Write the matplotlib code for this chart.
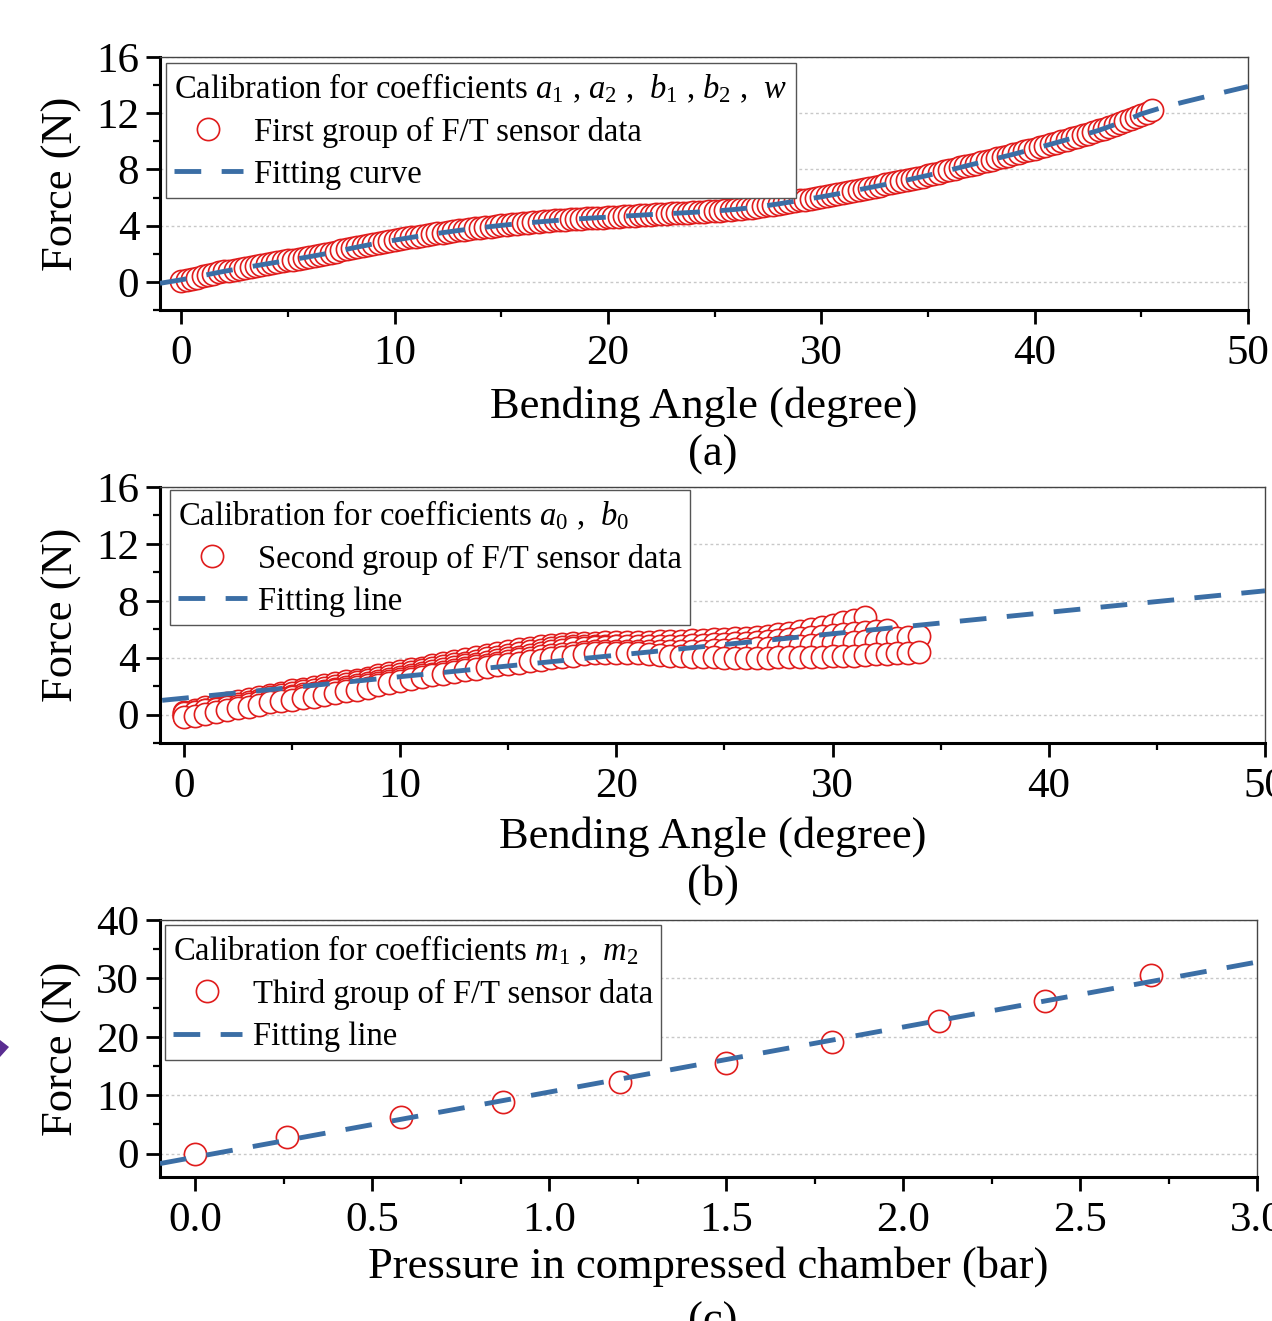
import numpy as np
import matplotlib
matplotlib.use('Agg')
import matplotlib.pyplot as plt
from matplotlib.patches import Polygon
from matplotlib.ticker import MultipleLocator, FormatStrFormatter

plt.rcParams['font.family'] = 'Liberation Serif'
plt.rcParams['mathtext.fontset'] = 'custom'
plt.rcParams['mathtext.rm'] = 'Liberation Serif'
plt.rcParams['mathtext.it'] = 'Liberation Serif:italic'

rot = '#e01c1c'
blau = '#3b6ea5'

# (a) erste Messreihe: Kraft ueber Biegewinkel
winkel_a = np.arange(0, 45.51, 0.25)
kraft_a = [0.05, 0.14, 0.22, 0.31, 0.40, 0.49, 0.58, 0.67, 0.75, 0.81, 0.87, 0.94,
           1.00, 1.07, 1.14, 1.20, 1.27, 1.33, 1.40, 1.46, 1.53, 1.59, 1.65, 1.72,
           1.78, 1.85, 1.92, 2.00, 2.07, 2.16, 2.25, 2.33, 2.42, 2.50, 2.57, 2.65,
           2.72, 2.79, 2.85, 2.92, 2.98, 3.04, 3.10, 3.16, 3.22, 3.28, 3.34, 3.39,
           3.45, 3.50, 3.56, 3.61, 3.66, 3.71, 3.76, 3.81, 3.86, 3.90, 3.94, 3.98,
           4.02, 4.06, 4.10, 4.14, 4.18, 4.21, 4.25, 4.28, 4.31, 4.34, 4.37, 4.40,
           4.43, 4.45, 4.48, 4.50, 4.52, 4.54, 4.56, 4.58, 4.60, 4.63, 4.65, 4.68,
           4.70, 4.72, 4.75, 4.77, 4.79, 4.81, 4.83, 4.85, 4.87, 4.89, 4.91, 4.93,
           4.95, 4.97, 4.99, 5.02, 5.04, 5.07, 5.10, 5.13, 5.16, 5.20, 5.24, 5.29,
           5.33, 5.38, 5.44, 5.49, 5.55, 5.61, 5.67, 5.74, 5.80, 5.86, 5.92, 5.99,
           6.05, 6.12, 6.19, 6.26, 6.33, 6.40, 6.48, 6.55, 6.63, 6.70, 6.78, 6.85,
           6.93, 7.01, 7.08, 7.16, 7.24, 7.32, 7.41, 7.49, 7.58, 7.67, 7.76, 7.86,
           7.95, 8.04, 8.14, 8.23, 8.33, 8.42, 8.51, 8.61, 8.70, 8.79, 8.89, 8.98,
           9.08, 9.18, 9.28, 9.38, 9.48, 9.58, 9.69, 9.79, 9.90, 10.01, 10.11, 10.22,
           10.33, 10.44, 10.55, 10.67, 10.78, 10.90, 11.02, 11.15, 11.28, 11.42, 11.57, 11.73,
           11.90, 12.05, 12.20]
fit_winkel_a = list(range(-1, 51))
fit_kraft_a = [-0.10, 0.15, 0.45, 0.75, 1.02, 1.28, 1.53, 1.79, 2.07, 2.40, 2.70, 2.97,
               3.22, 3.45, 3.66, 3.85, 4.02, 4.17, 4.30, 4.42, 4.52, 4.61, 4.70, 4.79,
               4.87, 4.95, 5.04, 5.16, 5.33, 5.55, 5.80, 6.05, 6.33, 6.63, 6.93, 7.24,
               7.58, 7.95, 8.33, 8.70, 9.08, 9.48, 9.90, 10.33, 10.78, 11.32, 11.95, 12.42,
               12.80, 13.17, 13.54, 13.90]

# (b) zweite Messreihe: mehrere Be- und Entlastungszyklen
kraft_b_1 = [0.20, 0.35, 0.50, 0.65, 0.80, 0.95, 1.10, 1.25, 1.40, 1.55, 1.70, 1.83,
             1.95, 2.08, 2.20, 2.33, 2.45, 2.60, 2.75, 2.90, 3.05, 3.18, 3.30, 3.45,
             3.60, 3.75, 3.90, 4.05, 4.20, 4.33, 4.45, 4.58, 4.70, 4.80, 4.90, 4.95,
             5.00, 5.03, 5.05, 5.08, 5.10, 5.10, 5.10, 5.13, 5.15, 5.18, 5.20, 5.23,
             5.25, 5.28, 5.30, 5.35, 5.40, 5.48, 5.55, 5.65, 5.75, 5.88, 6.00, 6.15,
             6.30, 6.48, 6.65, 6.85]
kraft_b_2 = [0.00, 0.15, 0.30, 0.45, 0.60, 0.75, 0.90, 1.05, 1.20, 1.35, 1.50, 1.63,
             1.75, 1.88, 2.00, 2.15, 2.30, 2.45, 2.60, 2.73, 2.85, 2.98, 3.10, 3.25,
             3.40, 3.53, 3.65, 3.80, 3.95, 4.08, 4.20, 4.33, 4.45, 4.55, 4.65, 4.73,
             4.80, 4.83, 4.85, 4.83, 4.80, 4.78, 4.75, 4.73, 4.70, 4.70, 4.70, 4.73,
             4.75, 4.78, 4.80, 4.85, 4.90, 4.95, 5.00, 5.05, 5.10, 5.18, 5.25, 5.33,
             5.40, 5.45, 5.50, 5.58]
kraft_b_3 = [-0.10, 0.03, 0.15, 0.28, 0.40, 0.55, 0.70, 0.85, 1.00, 1.15, 1.30, 1.43,
             1.55, 1.68, 1.80, 1.93, 2.05, 2.20, 2.35, 2.50, 2.65, 2.80, 2.95, 3.08,
             3.20, 3.33, 3.45, 3.58, 3.70, 3.83, 3.95, 4.08, 4.20, 4.33, 4.45, 4.55,
             4.65, 4.70, 4.75, 4.78, 4.80, 4.80, 4.80, 4.80, 4.80, 4.83, 4.85, 4.88,
             4.90, 4.93, 4.95, 5.00, 5.05, 5.10, 5.15, 5.23, 5.30, 5.38, 5.45, 5.53,
             5.60, 5.68, 5.75, 5.83, 5.90, 5.97]
kraft_b_4 = [0.10, 0.20, 0.30, 0.40, 0.50, 0.63, 0.75, 0.88, 1.00, 1.10, 1.20, 1.33,
             1.45, 1.58, 1.70, 1.83, 1.95, 2.08, 2.20, 2.35, 2.50, 2.63, 2.75, 2.88,
             3.00, 3.13, 3.25, 3.38, 3.50, 3.63, 3.75, 3.88, 4.00, 4.10, 4.20, 4.28,
             4.35, 4.40, 4.45, 4.48, 4.50, 4.50, 4.50, 4.48, 4.45, 4.45, 4.45, 4.48,
             4.50, 4.53, 4.55, 4.58, 4.60, 4.65, 4.70, 4.75, 4.80, 4.85, 4.90, 4.95,
             5.00, 5.05, 5.10, 5.15, 5.20, 5.28, 5.35, 5.43, 5.50]
kraft_b_5 = [-0.20, -0.08, 0.05, 0.18, 0.30, 0.43, 0.55, 0.70, 0.85, 0.95, 1.05, 1.15,
             1.25, 1.38, 1.50, 1.63, 1.75, 1.90, 2.05, 2.20, 2.35, 2.50, 2.65, 2.75,
             2.85, 2.98, 3.10, 3.23, 3.35, 3.45, 3.55, 3.65, 3.75, 3.85, 3.95, 4.05,
             4.15, 4.23, 4.30, 4.33, 4.35, 4.33, 4.30, 4.25, 4.20, 4.15, 4.10, 4.08,
             4.05, 4.03, 4.00, 4.00, 4.00, 4.00, 4.00, 4.03, 4.05, 4.05, 4.05, 4.08,
             4.10, 4.13, 4.15, 4.20, 4.25, 4.28, 4.30, 4.35, 4.40]
zyklen_b = [kraft_b_1, kraft_b_2, kraft_b_3, kraft_b_4, kraft_b_5]
fit_winkel_b = [-1, 50]
fit_kraft_b = [1.0, 8.7]

# (c) dritte Messreihe: Kraft ueber Kammerdruck
druck_c = [0.0, 0.26, 0.58, 0.87, 1.2, 1.5, 1.8, 2.1, 2.4, 2.7]
kraft_c = [0.0, 2.9, 6.2, 8.9, 12.2, 15.6, 19.1, 22.7, 26.1, 30.6]
fit_druck_c = [-0.1, 3.0]
fit_kraft_c = [-1.7, 32.8]


def achse_stylen(ax, xlim, ylim, xmaj, xmin, ymaj, ymin):
    ax.set_xlim(*xlim)
    ax.set_ylim(*ylim)
    ax.xaxis.set_major_locator(MultipleLocator(xmaj))
    ax.xaxis.set_minor_locator(MultipleLocator(xmin))
    ax.yaxis.set_major_locator(MultipleLocator(ymaj))
    ax.yaxis.set_minor_locator(MultipleLocator(ymin))
    for s in ['left', 'bottom']:
        ax.spines[s].set_linewidth(2.2)
    for s in ['top', 'right']:
        ax.spines[s].set_linewidth(1.0)
        ax.spines[s].set_color('#444444')
    ax.tick_params(which='major', direction='out', length=10, width=2, labelsize=31)
    ax.tick_params(which='minor', direction='out', length=5, width=1.6)
    ax.tick_params(axis='x', which='major', pad=8)
    ax.tick_params(axis='y', which='major', pad=5)
    ax.yaxis.grid(True, which='major', color='#c8c8c8', linestyle=(0, (2, 2)), linewidth=1)
    ax.set_axisbelow(True)


def punkte(ax, x, y):
    return ax.plot(x, y, ls='none', marker='o', ms=16, mfc='white', mec=rot,
                   mew=1.2, zorder=2)[0]


def fitlinie(ax, x, y):
    return ax.plot(x, y, color=blau, lw=3.5, ls=(0, (5.5, 4.2)), zorder=3)[0]


def legende(ax, handles, labels, titel, pos):
    leg = ax.legend(handles, labels, title=titel, loc='upper left', bbox_to_anchor=pos,
                    borderaxespad=0, fontsize=23.5, title_fontsize=23.5, alignment='left',
                    frameon=True, fancybox=False, framealpha=1, edgecolor='#555555',
                    borderpad=0.25, labelspacing=0.36, handlelength=2.1,
                    handletextpad=0.35, numpoints=1)
    leg.get_frame().set_linewidth(1.0)


fig = plt.figure(figsize=(12.72, 13.21), dpi=100)

# Panel (a)
ax1 = fig.add_axes([0.12579, 0.76533, 0.85535, 0.19152])
achse_stylen(ax1, (-1, 50), (-2, 16), 10, 5, 4, 2)
p1 = punkte(ax1, winkel_a, kraft_a)
f1 = fitlinie(ax1, fit_winkel_a, fit_kraft_a)
legende(ax1, [p1, f1], ['First group of F/T sensor data', 'Fitting curve'],
        r'Calibration for coefficients $\mathit{a}_{\mathit{1}}$ , $\mathit{a}_{\mathit{2}}$ ,  '
        r'$\mathit{b}_{\mathit{1}}$ , $\mathit{b}_{\mathit{2}}$ ,  $\mathit{w}$',
        (0.0055, 0.976))
ax1.set_xlabel('Bending Angle (degree)', fontsize=32)
ax1.set_ylabel('Force (N)', fontsize=32)
ax1.xaxis.set_label_coords(0.5, -0.30)
ax1.yaxis.set_label_coords(-0.072, 0.5)

# Panel (b)
ax2 = fig.add_axes([0.12579, 0.43755, 0.86871, 0.19379])
achse_stylen(ax2, (-1.1, 50), (-2, 16), 10, 5, 4, 2)
p2 = None
for kraft in zyklen_b:
    winkel = np.arange(len(kraft)) * 0.5
    linie = punkte(ax2, winkel, kraft)
    if p2 is None:
        p2 = linie
f2 = fitlinie(ax2, fit_winkel_b, fit_kraft_b)
legende(ax2, [p2, f2], ['Second group of F/T sensor data', 'Fitting line'],
        r'Calibration for coefficients $\mathit{a}_{\mathit{0}}$ ,  $\mathit{b}_{\mathit{0}}$',
        (0.009, 0.988))
ax2.set_xlabel('Bending Angle (degree)', fontsize=32)
ax2.set_ylabel('Force (N)', fontsize=32)
ax2.xaxis.set_label_coords(0.5, -0.285)
ax2.yaxis.set_label_coords(-0.071, 0.5)

# Panel (c)
ax3 = fig.add_axes([0.12579, 0.10901, 0.86242, 0.19455])
achse_stylen(ax3, (-0.1, 3.0), (-4, 40), 0.5, 0.25, 10, 5)
ax3.xaxis.set_major_formatter(FormatStrFormatter('%.1f'))
p3 = punkte(ax3, druck_c, kraft_c)
f3 = fitlinie(ax3, fit_druck_c, fit_kraft_c)
legende(ax3, [p3, f3], ['Third group of F/T sensor data', 'Fitting line'],
        r'Calibration for coefficients $\mathit{m}_{\mathit{1}}$ ,  $\mathit{m}_{\mathit{2}}$',
        (0.0046, 0.98))
ax3.set_xlabel('Pressure in compressed chamber (bar)', fontsize=32)
ax3.set_ylabel('Force (N)', fontsize=32)
ax3.xaxis.set_label_coords(0.5, -0.268)
ax3.yaxis.set_label_coords(-0.071, 0.5)

# Teilbild-Bezeichnungen
fig.text(713 / 1272, 1 - 455 / 1321, '(a)', ha='center', va='center', fontsize=32)
fig.text(713 / 1272, 1 - 885 / 1321, '(b)', ha='center', va='center', fontsize=32)
fig.text(713 / 1272, 1 - 1322 / 1321, '(c)', ha='center', va='center', fontsize=32)

# kleine Pfeilspitze am linken Rand
ecken = [(0 / 1272, 1 - 1040 / 1321), (9 / 1272, 1 - 1047 / 1321), (0 / 1272, 1 - 1057 / 1321)]
fig.patches.append(Polygon(ecken, closed=True, transform=fig.transFigure,
                           facecolor='#5a2d91', edgecolor='none'))

fig.savefig('out.png', dpi=100)
